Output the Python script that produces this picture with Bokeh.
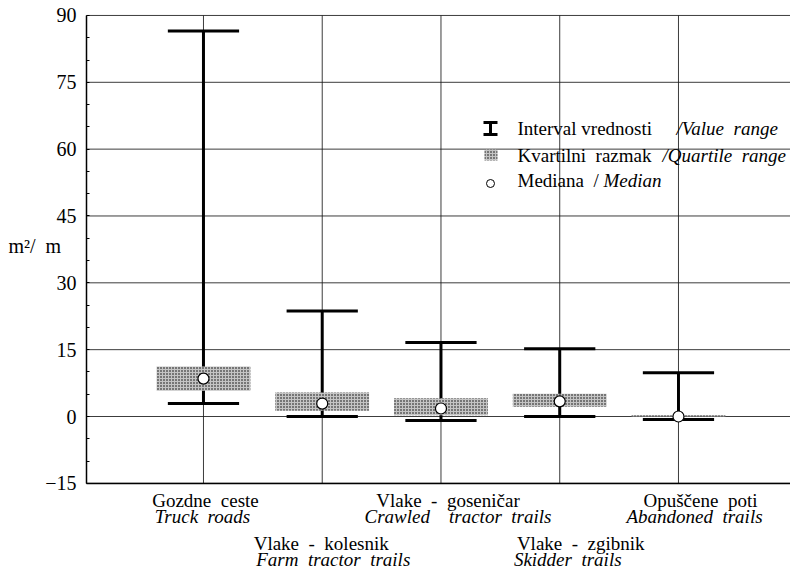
from bokeh.plotting import figure
from bokeh.models import Label, Range1d, FixedTicker, ColumnDataSource
from bokeh.embed import file_html
from bokeh.resources import INLINE

NB = "\u00a0"  # non-breaking space keeps the wide word spacing of the original

# ---- data ----
names_si = ["Gozdne" + NB + " ceste", "Vlake" + NB + " -" + NB + " kolesnik", "Vlake" + NB + " -" + NB + " goseničar",
            "Vlake" + NB + " -" + NB + " zgibnik", "Opuščene" + NB + " poti"]
names_en = ["Truck" + NB + " roads", "Farm" + NB + " tractor" + NB + " trails",
            "Crawled" + NB + NB + NB + " tractor" + NB + " trails", "Skidder" + NB + " trails",
            "Abandoned" + NB + " trails"]
positions = [1, 2, 3, 4, 5]
val_min = [2.9, 0.0, -0.9, 0.0, -0.7]
val_max = [86.5, 23.7, 16.6, 15.2, 9.8]
q_low = [5.8, 1.3, 0.3, 2.2, 0.0]
q_high = [11.2, 5.4, 4.1, 5.1, 0.3]
medians = [8.5, 2.9, 1.8, 3.4, 0.0]
y_ticks = [-15, 0, 15, 30, 45, 60, 75, 90]
y_minor = list(range(-15, 91, 5))

SERIF = "Liberation Serif"

# ---- layout helpers (pixel -> data, page geometry of the reference) ----
FW, FH = 790, 570
X_PX0, X_STEP = 86, 118.75        # left axis pixel, pixels per category
Y_PX0, Y_STEP = 416, 4.456        # pixel of value 0, pixels per unit
X_LEFT = 0.015                    # data x of the left axis
def dx(px):
    return X_LEFT + (px - X_PX0) / X_STEP
def dy(py):
    return (Y_PX0 - py) / Y_STEP

X_RIGHT = dx(FW)
Y_LO, Y_HI = y_ticks[0], y_ticks[-1]

src = ColumnDataSource(dict(x=positions, lo=val_min, hi=val_max, q1=q_low, q3=q_high, med=medians))

p = figure(frame_width=FW, frame_height=FH, output_backend="svg", toolbar_location=None,
           x_range=Range1d(dx(0), dx(FW)), y_range=Range1d(dy(FH), dy(0)),
           min_border=0, min_border_left=0, min_border_right=0, min_border_top=0, min_border_bottom=0)
p.outline_line_color = None
p.background_fill_color = "white"
p.border_fill_color = "white"
p.xgrid.visible = False
p.ygrid.visible = False

# grid lines limited to the plotting box
p.segment(x0=[X_LEFT] * len(y_ticks), y0=y_ticks, x1=[X_RIGHT] * len(y_ticks), y1=y_ticks,
          line_color="#1a1a1a", line_width=1, line_alpha=0.85)
p.segment(x0=positions, y0=[Y_LO] * len(positions), x1=positions, y1=[Y_HI] * len(positions),
          line_color="#1a1a1a", line_width=1, line_alpha=0.85)

# y axis at fixed location
p.yaxis.fixed_location = X_LEFT
p.yaxis.bounds = (Y_LO, Y_HI)
p.yaxis.ticker = FixedTicker(ticks=y_ticks, minor_ticks=y_minor)
p.yaxis.major_label_text_font = SERIF
p.yaxis.major_label_text_font_size = "20px"
p.yaxis.major_label_text_color = "black"
p.yaxis.major_tick_out = 0
p.yaxis.major_tick_in = 0
p.yaxis.minor_tick_in = 3
p.yaxis.minor_tick_out = 0
p.yaxis.minor_tick_line_color = "black"
p.yaxis.axis_line_color = "black"
p.yaxis.axis_line_width = 1.5
p.yaxis.major_label_standoff = 10

# x axis at fixed location (category names are drawn as labels below)
p.xaxis.fixed_location = Y_LO
p.xaxis.bounds = (X_LEFT, X_RIGHT)
p.xaxis.ticker = FixedTicker(ticks=[])
p.xaxis.major_tick_out = 0
p.xaxis.major_tick_in = 0
p.xaxis.minor_tick_out = 0
p.xaxis.minor_tick_in = 0
p.xaxis.axis_line_color = "black"
p.xaxis.axis_line_width = 1.5

# whiskers
cap_w = 0.6
p.segment(x0="x", y0="lo", x1="x", y1="hi", source=src, line_color="black", line_width=3)
p.segment(x0=[x - cap_w / 2 for x in positions], y0=val_max, x1=[x + cap_w / 2 for x in positions], y1=val_max,
          line_color="black", line_width=3)
p.segment(x0=[x - cap_w / 2 for x in positions], y0=val_min, x1=[x + cap_w / 2 for x in positions], y1=val_min,
          line_color="black", line_width=3)
# quartile boxes
HATCH = dict(fill_color="#c4c4c4", hatch_pattern="dot", hatch_color="#000000", hatch_scale=3, hatch_weight=1.5)
p.vbar(x="x", bottom="q1", top="q3", width=0.79, source=src, line_color=None, **HATCH)
# medians
p.scatter(x="x", y="med", source=src, size=11, marker="circle", fill_color="white", line_color="black", line_width=1.2)

# ---- legend (hand made) ----
lx, hw = dx(490), 7 / X_STEP
p.segment(x0=[lx], y0=[dy(134)], x1=[lx], y1=[dy(122)], line_color="black", line_width=3)
p.segment(x0=[lx - hw, lx - hw], y0=[dy(134), dy(122)], x1=[lx + hw, lx + hw], y1=[dy(134), dy(122)],
          line_color="black", line_width=3)
p.quad(left=[dx(484)], right=[dx(497)], bottom=[dy(160)], top=[dy(149)], line_color=None, **HATCH)
p.scatter(x=[lx], y=[dy(183)], size=8, marker="circle", fill_color="white", line_color="black", line_width=1)

leg_rows = [
    ("Interval vrednosti", "/Value" + NB + " range", 128, 517, 676),
    ("Kvartilni" + NB + " razmak", "/Quartile" + NB + " range", 155, 517, 662),
    ("Mediana" + NB + " /", "Median", 180, 517, 603),
]
for up, it, yy, x1, x2 in leg_rows:
    p.add_layout(Label(x=dx(x1), y=dy(yy), text=up, text_font=SERIF, text_font_size="19px",
                       text_baseline="middle", text_align="left", text_color="black"))
    p.add_layout(Label(x=dx(x2), y=dy(yy), text=it, text_font=SERIF, text_font_size="19px",
                       text_font_style="italic", text_baseline="middle", text_align="left", text_color="black"))

# ---- category labels (two tiers) ----
shift_si = [2, -1, 7, 21, 22]     # pixel nudges of label centres
shift_en = [-1, 11, 17, 8, 16]
for i, (xs, si, en) in enumerate(zip(positions, names_si, names_en)):
    ya, yb = (500, 516) if i % 2 == 0 else (543, 559)
    p.add_layout(Label(x=xs, y=dy(ya), x_offset=shift_si[i], text=si, text_font=SERIF, text_font_size="19px",
                       text_align="center", text_baseline="middle", text_color="black"))
    p.add_layout(Label(x=xs, y=dy(yb), x_offset=shift_en[i], text=en, text_font=SERIF, text_font_size="19px",
                       text_font_style="italic", text_align="center", text_baseline="middle", text_color="black"))

# y axis title
p.add_layout(Label(x=dx(8), y=dy(245), text="m²/" + NB + " m", text_font=SERIF, text_font_size="20px",
                   text_baseline="middle", text_align="left", text_color="black"))

open("out.html", "w").write(file_html(p, INLINE))
